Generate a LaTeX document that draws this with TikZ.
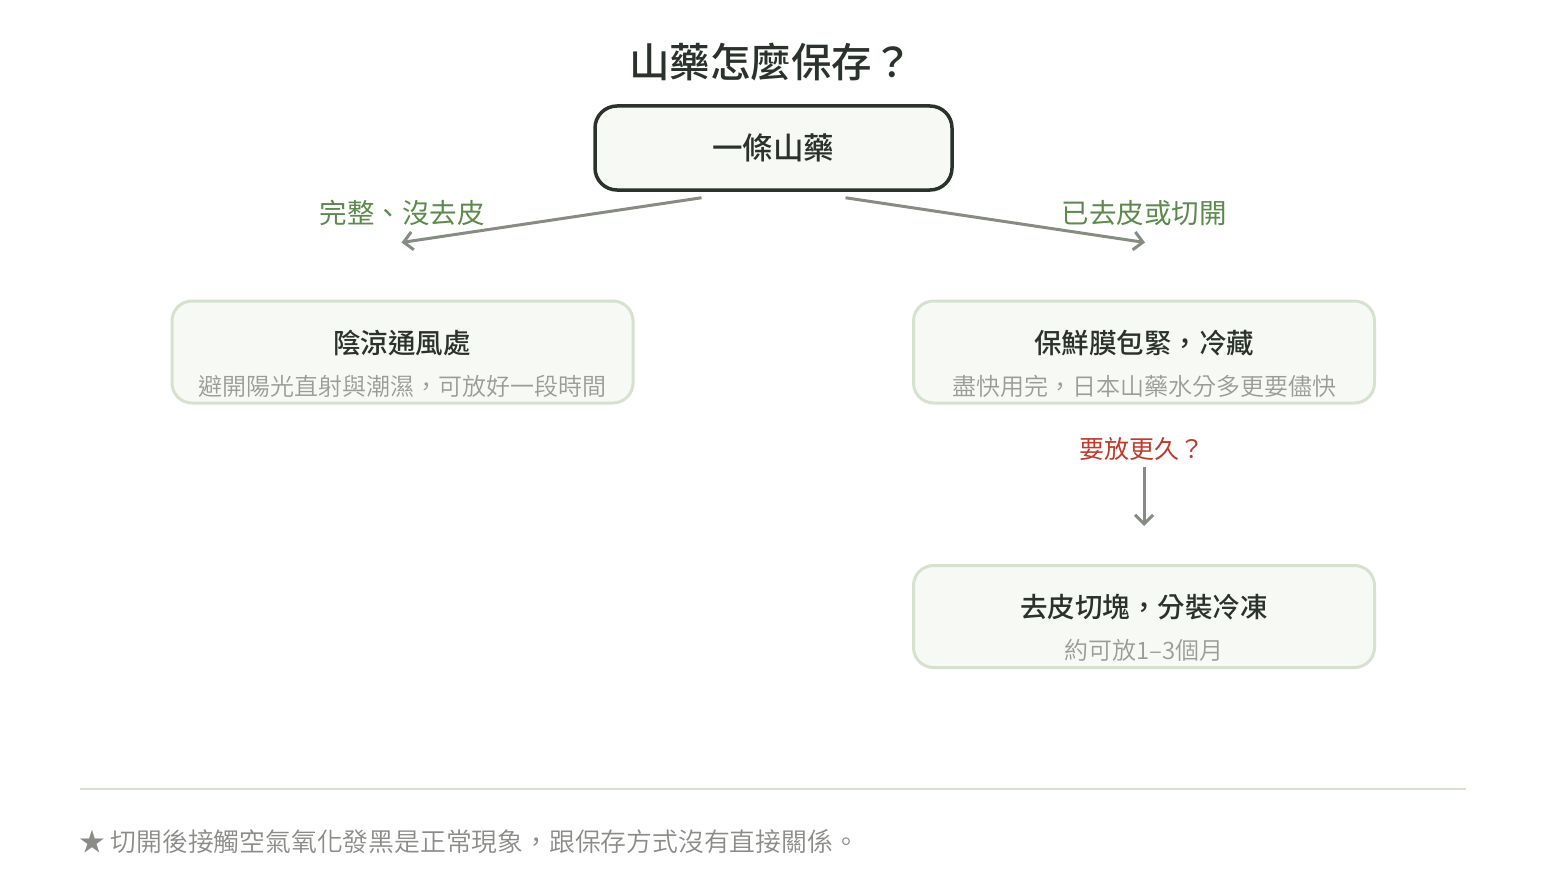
\documentclass[tikz,border=0pt]{standalone}
\usepackage{fontspec}
\setmainfont{Noto Sans CJK TC}
\newfontfamily\cjkmed{Noto Sans CJK TC Medium}
\newfontfamily\cjklight{Noto Sans CJK TC DemiLight}
\usetikzlibrary{arrows.meta}
\definecolor{ink}{HTML}{2B312B}
\definecolor{boxfill}{HTML}{F7F9F4}
\definecolor{boxline}{HTML}{D6E1D0}
\definecolor{arrowgray}{HTML}{868C84}
\definecolor{subgray}{HTML}{9A9C98}
\definecolor{leafgreen}{HTML}{5B8A4C}
\definecolor{alertred}{HTML}{C0392B}
\definecolor{footgray}{HTML}{8A8C88}
\tikzset{
  rootbox/.style={draw=ink, line width=3.5pt, fill=boxfill, rounded corners=22pt, minimum width=357pt, minimum height=84pt, inner sep=0pt},
  leafbox/.style={draw=boxline, line width=3pt, fill=boxfill, rounded corners=20pt, minimum width=461pt, minimum height=102pt, inner sep=0pt},
  boxtitle/.style={text=ink, font=\fontsize{27.5}{32}\selectfont\cjkmed, inner sep=0pt},
  boxsub/.style={text=subgray, font=\fontsize{24}{28}\selectfont\cjklight, inner sep=0pt},
  branchlabel/.style={text=leafgreen, font=\fontsize{27.5}{32}\selectfont, inner sep=0pt},
  arr/.style={draw=arrowgray, line width=3pt, -{Straight Barb[length=9pt,width=18pt,line width=3pt]}}
}
\begin{document}
\begin{tikzpicture}[x=1pt,y=-1pt]
\useasboundingbox (0,0) rectangle (1546,880);
\node[text=ink, font=\fontsize{40.5}{48}\selectfont\cjkmed, inner sep=0pt] (title) at (771,62) {山藥怎麼保存？};
\node[rootbox] (root) at (773.5,148) {};
\node[text=ink, font=\fontsize{30.5}{36}\selectfont\cjkmed, inner sep=0pt] (rootlabel) at (773,148) {一條山藥};

\node[leafbox] (left) at (402.5,352) {};
\node[boxtitle] (lefttitle) at (402,343) {陰涼通風處};
\node[boxsub] (leftsub) at (402,386) {避開陽光直射與潮濕，可放好一段時間};

\node[leafbox] (right) at (1144,352) {};
\node[boxtitle] (righttitle) at (1144,343) {保鮮膜包緊，冷藏};
\node[boxsub] (rightsub) at (1144,386) {盡快用完，日本山藥水分多更要儘快};

\node[leafbox] (freeze) at (1144,616.5) {};
\node[boxtitle] (freezetitle) at (1144,607) {去皮切塊，分裝冷凍};
\node[boxsub] (freezesub) at (1144,650) {約可放1–3個月};

\coordinate (lstart) at ([xshift=-72pt,yshift=-6pt]root.south);
\coordinate (lend) at ([xshift=-1pt,yshift=57pt]left.north);
\coordinate (rstart) at ([xshift=72pt,yshift=-6pt]root.south);
\coordinate (rend) at ([xshift=1pt,yshift=57pt]right.north);
\draw[arr] (lstart) -- (lend);
\draw[arr] (rstart) -- (rend);
\node[branchlabel] (llabel) at (402,213) {完整、沒去皮};
\node[branchlabel] (rlabel) at (1144,213) {已去皮或切開};

\node[text=alertred, font=\fontsize{25}{30}\selectfont, inner sep=0pt] (more) at (1142,449) {要放更久？};
\draw[arr] ([yshift=-6pt]more.south -| freeze.north) -- ([yshift=38pt]freeze.north);

\coordinate (sepl) at (80,789);
\coordinate (sepr) at (1466,789);
\draw[draw=boxline, line width=2pt] (sepl) -- (sepr);
\node[text=footgray, font=\fontsize{25.8}{30}\selectfont\cjklight, anchor=west, inner sep=0pt] (foot) at (79,842) {★ 切開後接觸空氣氧化發黑是正常現象，跟保存方式沒有直接關係。};
\end{tikzpicture}
\end{document}
